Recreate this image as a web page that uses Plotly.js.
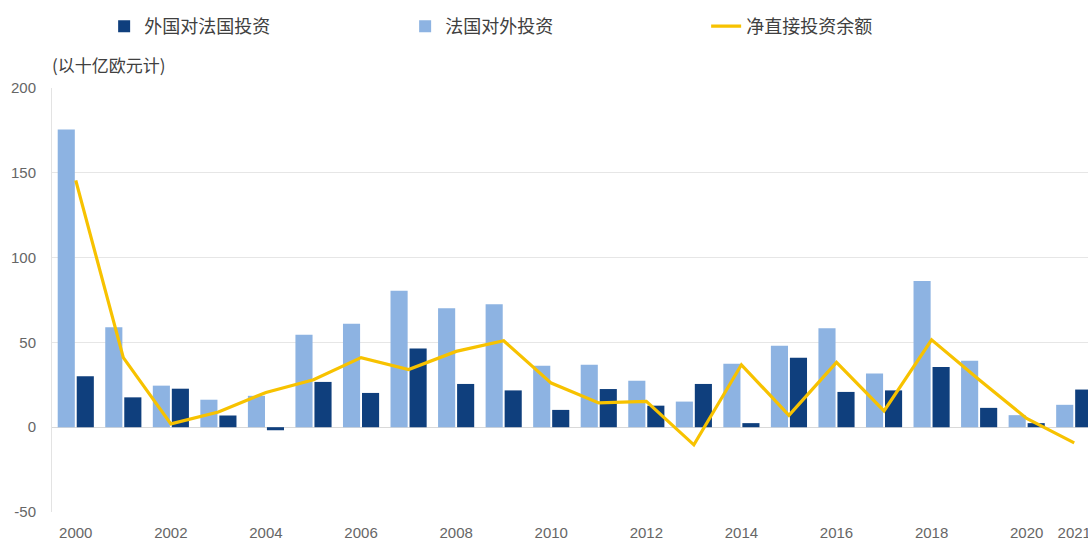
<!DOCTYPE html>
<html>
<head>
<meta charset="utf-8">
<script src="https://cdn.plot.ly/plotly-3.0.1.min.js"></script>
<style>
html,body{margin:0;padding:0;overflow:hidden;background:#fff;width:1088px;height:542px;}
#chart{width:1100px;height:542px;}
</style>
</head>
<body>
<div id="chart"></div>
<script>
const years = [2000,2001,2002,2003,2004,2005,2006,2007,2008,2009,2010,2011,2012,2013,2014,2015,2016,2017,2018,2019,2020,2021];
const outward = [175.5,59,24.5,16.2,18.5,54.5,61,80.5,70.2,72.5,36.3,36.8,27.4,15.1,37.4,48,58.4,31.7,86.2,39.2,7.1,13.2];
const inward = [30,17.6,22.7,6.9,-1.8,26.7,20.2,46.4,25.5,21.7,10.2,22.5,12.7,25.5,2.4,41,20.8,21.7,35.5,11.4,2.4,22.2];
const netBalance = [145.5,41,2,9,20.5,28,41,34,44.7,51,26,14.3,15.2,-10.4,36.8,7,38.2,9.6,51.5,28,5.2,-9.2];
const tickYears = [2000,2002,2004,2006,2008,2010,2012,2014,2016,2018,2020,2021];
const yTicks = [-50,0,50,100,150,200];
const yTickText = ['-50','0','50','100','150','200'];
const names = {inward:'外国对法国投资', outward:'法国对外投资', net:'净直接投资余额', unit:'(以十亿欧元计)'};

const cjk = '"Noto Sans CJK SC", "Noto Sans", sans-serif';
const latin = '"Liberation Sans", Arial, sans-serif';

const traceOutward = {type:'bar', name:names.outward, x:years, y:outward, marker:{color:'#8db3e2'}, legendrank:2};
const traceInward = {type:'bar', name:names.inward, x:years, y:inward, marker:{color:'#0f3f7d'}, legendrank:1};
const traceNet = {type:'scatter', mode:'lines', name:names.net, x:years, y:netBalance, line:{color:'#f7c200', width:3.2}, legendrank:3};

const layout = {
  width:1100, height:542,
  margin:{l:52, r:2, t:88, b:30},
  paper_bgcolor:'#fff', plot_bgcolor:'#fff',
  barmode:'group', bargap:0.2, bargroupgap:0.1,
  showlegend:true,
  legend:{orientation:'h', xref:'container', yref:'container', x:103/1088, y:1-8/542, xanchor:'left', yanchor:'top',
    entrywidth:256, entrywidthmode:'pixels', traceorder:'normal',
    font:{family:cjk, size:18, color:'#404040'}},
  xaxis:{range:[1999.5,2021.5], tickvals:tickYears, ticktext:tickYears.map(String), showgrid:false, zeroline:false,
    showline:false, ticks:'', ticklabelstandoff:10,
    tickfont:{family:latin, size:15, color:'#666'}},
  yaxis:{range:[-50,200], tickvals:yTicks, ticktext:yTickText, showgrid:true, gridcolor:'#e6e6e6', gridwidth:1,
    zeroline:true, zerolinecolor:'#d9d9d9', zerolinewidth:1, showline:true, linecolor:'#e3e3e3', linewidth:1,
    ticks:'', ticklabelstandoff:12,
    tickfont:{family:latin, size:15, color:'#666'}},
  annotations:[{xref:'paper', yref:'paper', x:-0.002, y:(512-65)/424, xanchor:'left', yanchor:'middle',
    text:names.unit, showarrow:false, font:{family:cjk, size:17, color:'#404040'}}]
};
Plotly.newPlot('chart', [traceOutward, traceInward, traceNet], layout, {displayModeBar:false, staticPlot:true});
</script>
</body>
</html>
